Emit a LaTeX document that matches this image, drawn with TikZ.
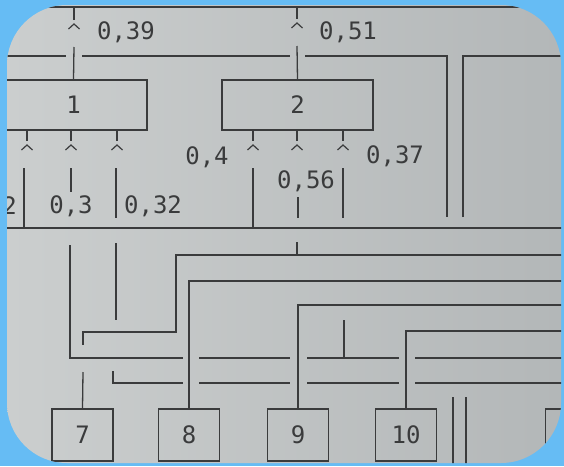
\documentclass[tikz,border=0pt]{standalone}
\usepackage{fontspec}
\setmonofont{DejaVu Sans Mono}
\definecolor{sky}{HTML}{66BCF4}
\definecolor{paperL}{HTML}{CBCECE}
\definecolor{paperR}{HTML}{B3B7B8}
\definecolor{ink}{HTML}{3A3B3C}
\tikzset{
  wire/.style={ink, line width=1.3pt},
  blk/.style={draw=ink, line width=1.3pt, inner sep=0pt, text=ink,
    font=\ttfamily\fontsize{24}{24}\selectfont},
  lbl/.style={text=ink, inner sep=0pt, font=\ttfamily\fontsize{24}{24}\selectfont},
}
\newcommand{\tap}[1]{\draw[ink, line width=1.2pt] (#1) ++(-5.5,5) -- ++(5.5,-5) -- ++(5.5,5);}
\begin{document}
\begin{tikzpicture}[x=1pt,y=-1pt]
        \useasboundingbox (0,0) rectangle (564,466);
        \fill[sky] (0,0) rectangle (564,466);
        \shade[left color=paperL, right color=paperR, rounded corners=60pt] (7,5) rectangle (561,463);
        \begin{scope}
        \clip[rounded corners=60pt] (7,5) rectangle (561,463);
        % upper units
        \node[blk, minimum width=147pt, minimum height=50pt] (u1) at (73.5,105) {1};
        \node[blk, minimum width=151pt, minimum height=50pt] (u2) at (297.5,105) {2};
        % lower units
        \foreach \n/\x in {7/82.5, 8/189, 9/298, 10/406} {
            \node[blk, minimum width=61pt, minimum height=52pt] (d\n) at (\x,435) {\n};
        }
        \node[blk, minimum width=61pt, minimum height=52pt] (d11) at (576,435) {};
        \coordinate (top) at (0,7);
        \coordinate (bot) at (0,228);
        \draw[wire] (top) -- ++(564,0);
        \draw[wire] (bot) -- ++(564,0);
        % feeders into 1 and 2
        \draw[wire] (74,7) -- (74,20);
        \tap{74,24}
        \draw[wire] (74,47) -- (u1.north);
        \draw[wire] (297,7) -- (297,19);
        \tap{297,23}
        \draw[wire] (297,46) -- (u2.north);
        \node[lbl] (v1) at (126,32) {0,39};
        \node[lbl] (v2) at (348,32) {0,51};
        % line across the units
        \draw[wire] (7,56) -- (66,56);
        \draw[wire] (82,56) -- (290,56);
        \draw[wire] (305,56) -| (447,217);
        \draw[wire] (463,217) |- (564,56);
        % outputs of 1 and 2
        \foreach \x in {27,71,117,253,297,343} {
            \draw[wire] (\x,130) -- (\x,141);
            \tap{\x,145}
        }
        \draw[wire] (24,168) -- (24,228);
        \draw[wire] (71,168) -- (71,192);
        \draw[wire] (116,168) -- (116,218);
        \draw[wire] (253,168) -- (253,228);
        \draw[wire] (298,197) -- (298,218);
        \draw[wire] (343,168) -- (343,218);
        \node[lbl, anchor=east] (w0) at (17,206) {2};
        \node[lbl] (w1) at (71,206) {0,3};
        \node[lbl] (w2) at (153,206) {0,32};
        \node[lbl] (w3) at (207,157) {0,4};
        \node[lbl] (w4) at (306,181) {0,56};
        \node[lbl] (w5) at (395,156) {0,37};
        % lower wiring
        \draw[wire] (297,242) -- (297,255);
        \draw[wire] (564,255) -| (176,332) -| (83,345);
        \draw[wire] (d8.north) |- (564,281);
        \draw[wire] (d9.north) |- (564,305);
        \draw[wire] (d10.north) |- (564,331);
        \draw[wire] (d7.north) -- (83,372);
        \draw[wire] (70,245) |- (183,358);
        \draw[wire] (113,371) |- (183,383);
        \foreach \y in {358,383} {
            \draw[wire] (199,\y) -- (290,\y);
            \draw[wire] (307,\y) -- (399,\y);
            \draw[wire] (415,\y) -- (564,\y);
        }
        \draw[wire] (116,243) -- (116,320);
        \draw[wire] (344,320) -- (344,358);
        \draw[wire] (453,397) -- (453,466);
        \draw[wire] (466,397) -- (466,466);
        \end{scope}
    \end{tikzpicture}
\end{document}
